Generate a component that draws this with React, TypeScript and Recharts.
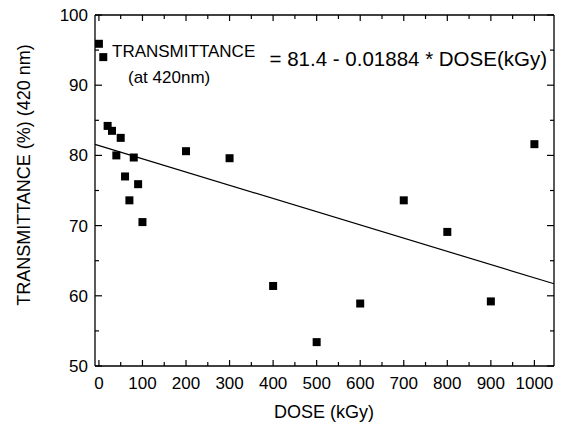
import {
  ScatterChart,
  Scatter,
  XAxis,
  YAxis,
  ReferenceLine,
} from "recharts";

// dose (kGy) and transmittance (%) at 420 nm
const doses = [0, 10, 20, 30, 40, 50, 60, 70, 80, 90, 100, 200, 300, 400, 500, 600, 700, 800, 900, 1000];
const transmittance = [95.9, 94.0, 84.2, 83.5, 80.0, 82.5, 77.0, 73.6, 79.7, 75.9, 70.5, 80.6, 79.6, 61.4, 53.4, 58.9, 73.6, 69.1, 59.2, 81.6];

const xTicks = [0, 50, 100, 150, 200, 250, 300, 350, 400, 450, 500, 550, 600, 650, 700, 750, 800, 850, 900, 950, 1000];
const yTicks = [50, 55, 60, 65, 70, 75, 80, 85, 90, 95, 100];

const X_MIN = -9;
const X_MAX = 1045;
const Y_MIN = 50;
const Y_MAX = 100;
const FIT_INTERCEPT = 81.4;
const FIT_SLOPE = -0.01884;

const data = doses.map((d, i) => ({ dose: d, t: transmittance[i] }));
const fitAt = (x: number) => FIT_INTERCEPT + FIT_SLOPE * x;

const FONT = "'Liberation Sans', Arial, sans-serif";

const Square = (props: any) => {
  const { cx, cy } = props;
  return <rect x={cx - 4} y={cy - 4} width={8} height={8} fill="#000" />;
};

// tick labels only; the marks are drawn by the reference lines below
const BottomLabel = ({ x, y, payload }: any) =>
  payload.value % 100 === 0 ? (
    <text x={x} y={y + 17} dy="0.355em" textAnchor="middle" fontSize={17} fontFamily={FONT} fill="#000">
      {payload.value}
    </text>
  ) : (
    <g />
  );

const LeftLabel = ({ x, y, payload }: any) =>
  payload.value % 10 === 0 ? (
    <text x={x - 7} y={y} dy="0.355em" textAnchor="end" fontSize={17} fontFamily={FONT} fill="#000">
      {payload.value}
    </text>
  ) : (
    <g />
  );

// inward tick marks at both ends of a vertical reference line (bottom + top axes)
const VMarks = ({ x1, y1, y2, len }: any) => {
  const top = Math.min(y1, y2);
  const bottom = Math.max(y1, y2);
  return (
    <g stroke="#000" strokeWidth={1.2}>
      <line x1={x1} x2={x1} y1={bottom} y2={bottom - len} />
      <line x1={x1} x2={x1} y1={top} y2={top + len} />
    </g>
  );
};

// inward tick marks at both ends of a horizontal reference line (left + right axes)
const HMarks = ({ x1, x2, y1, len }: any) => {
  const left = Math.min(x1, x2);
  const right = Math.max(x1, x2);
  return (
    <g stroke="#000" strokeWidth={1.2}>
      <line x1={left} x2={left + len} y1={y1} y2={y1} />
      <line x1={right} x2={right - len} y1={y1} y2={y1} />
    </g>
  );
};

export default function App() {
  return (
    <div style={{ position: "absolute", left: 0, top: 0, width: 564, height: 426, background: "#fff" }}>
      <ScatterChart width={564} height={426} margin={{ top: 15, right: 10, bottom: 0, left: 0 }}>
        <XAxis
          xAxisId="b"
          type="number"
          dataKey="dose"
          domain={[X_MIN, X_MAX]}
          ticks={xTicks}
          interval={0}
          height={60}
          tickLine={false}
          tickSize={0}
          tickMargin={0}
          tick={BottomLabel}
          axisLine={{ stroke: "#000", strokeWidth: 1.3 }}
          allowDataOverflow
        />
        <YAxis
          yAxisId="l"
          type="number"
          dataKey="t"
          domain={[Y_MIN, Y_MAX]}
          ticks={yTicks}
          interval={0}
          width={95}
          tickLine={false}
          tickSize={0}
          tickMargin={0}
          tick={LeftLabel}
          axisLine={{ stroke: "#000", strokeWidth: 1.3 }}
          allowDataOverflow
        />

        {/* frame: top and right edges */}
        <ReferenceLine xAxisId="b" yAxisId="l" y={Y_MAX} stroke="#000" strokeWidth={1.3} />
        <ReferenceLine xAxisId="b" yAxisId="l" x={X_MAX} stroke="#000" strokeWidth={1.3} />

        {xTicks.map((t) => (
          <ReferenceLine
            key={`x${t}`}
            xAxisId="b"
            yAxisId="l"
            x={t}
            shape={(p: any) => <VMarks {...p} len={t % 100 === 0 ? 6 : 4} />}
          />
        ))}
        {yTicks.map((t) => (
          <ReferenceLine
            key={`y${t}`}
            xAxisId="b"
            yAxisId="l"
            y={t}
            shape={(p: any) => <HMarks {...p} len={t % 10 === 0 ? 7 : 4} />}
          />
        ))}

        <ReferenceLine
          xAxisId="b"
          yAxisId="l"
          segment={[
            { x: X_MIN, y: fitAt(X_MIN) },
            { x: X_MAX, y: fitAt(X_MAX) },
          ]}
          stroke="#000"
          strokeWidth={1.2}
          ifOverflow="visible"
        />
        <Scatter
          xAxisId="b"
          yAxisId="l"
          data={data}
          shape={Square}
          isAnimationActive={false}
        />
      </ScatterChart>
      <svg
        width={564}
        height={426}
        style={{ position: "absolute", left: 0, top: 0, pointerEvents: "none" }}
        fontFamily={FONT}
        fill="#000"
      >
        <text x={112} y={51} dy="0.355em" fontSize={17}>TRANSMITTANCE</text>
        <text x={128} y={77} dy="0.355em" fontSize={17}>(at 420nm)</text>
        <text x={547} y={58.7} dy="0.358em" fontSize={20.5} textAnchor="end">= 81.4 - 0.01884 * DOSE(kGy)</text>
        <text x={324} y={412} dy="0.355em" fontSize={18} textAnchor="middle">DOSE (kGy)</text>
        <text
          x={24}
          y={175}
          dy="0.355em"
          fontSize={18}
          textAnchor="middle"
          transform="rotate(-90 24 175)"
        >
          TRANSMITTANCE (%) (420 nm)
        </text>
      </svg>
    </div>
  );
}
